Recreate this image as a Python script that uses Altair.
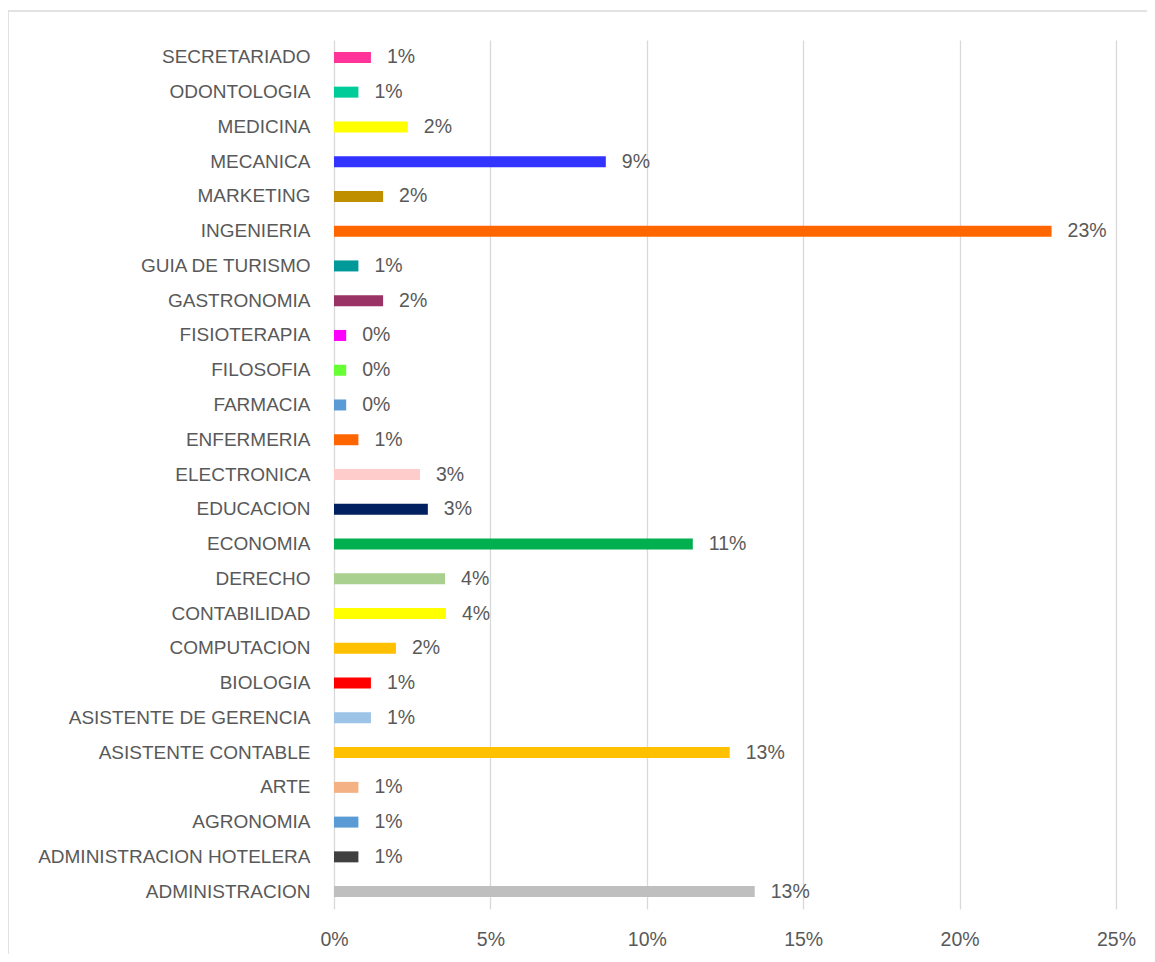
import altair as alt
import pandas as pd

categories = [
    "SECRETARIADO", "ODONTOLOGIA", "MEDICINA", "MECANICA", "MARKETING",
    "INGENIERIA", "GUIA DE TURISMO", "GASTRONOMIA", "FISIOTERAPIA", "FILOSOFIA",
    "FARMACIA", "ENFERMERIA", "ELECTRONICA", "EDUCACION", "ECONOMIA",
    "DERECHO", "CONTABILIDAD", "COMPUTACION", "BIOLOGIA", "ASISTENTE DE GERENCIA",
    "ASISTENTE CONTABLE", "ARTE", "AGRONOMIA", "ADMINISTRACION HOTELERA", "ADMINISTRACION",
]
values = [
    0.0118, 0.0078, 0.0236, 0.0869, 0.0157,
    0.2294, 0.0078, 0.0157, 0.0039, 0.0039,
    0.0039, 0.0078, 0.0275, 0.0300, 0.1147,
    0.0355, 0.0358, 0.0198, 0.0118, 0.0118,
    0.1265, 0.0078, 0.0078, 0.0078, 0.1345,
]
colors = [
    "#FF3399", "#00CC99", "#FFFF00", "#3333FF", "#BF8F00",
    "#FF6600", "#009999", "#993366", "#FF00FF", "#66FF33",
    "#5B9BD5", "#FF6600", "#FFCCCC", "#002060", "#00B050",
    "#A9D08E", "#FFFF00", "#FFC000", "#FF0000", "#9DC3E6",
    "#FFC000", "#F4B183", "#5B9BD5", "#404040", "#BFBFBF",
]
x_ticks = [0, 0.05, 0.10, 0.15, 0.20, 0.25]

df = pd.DataFrame({"cat": categories, "value": values, "color": colors})

FONT = "Liberation Sans"
TXT = "#595959"

y_enc = alt.Y("cat:N", sort=categories, title=None,
              axis=alt.Axis(labelPadding=24, labelFontSize=19, labelColor=TXT,
                            labelFont=FONT, ticks=False, domain=False, grid=False,
                            labelLimit=400))
x_enc = alt.X("value:Q", title=None,
              scale=alt.Scale(domain=[0, 0.25], nice=False),
              axis=alt.Axis(values=x_ticks, format=".0%", grid=True,
                            gridColor="#D9D9D9", gridWidth=1.3, domain=False,
                            ticks=False, labelPadding=21, labelFontSize=19.5,
                            labelColor=TXT, labelFont=FONT, labelFlush=False))

bars = alt.Chart(df).mark_bar(size=11).encode(
    x=x_enc, y=y_enc, color=alt.Color("color:N", scale=None)
)
labels = alt.Chart(df).mark_text(align="left", baseline="middle", dx=16,
                                 fontSize=19.5, font=FONT, color=TXT).encode(
    x="value:Q", y=alt.Y("cat:N", sort=categories),
    text=alt.Text("value:Q", format=".0%")
)
border = alt.Chart(pd.DataFrame({"a": [0]})).mark_rect(
    fill="transparent", stroke="#D9D9D9", strokeWidth=1.5
).encode(x=alt.value(-326), x2=alt.value(900), y=alt.value(-29), y2=alt.value(1000))

chart = alt.layer(border, bars, labels).properties(
    width=782, height=869,
    background="white",
    autosize=alt.AutoSizeParams(type="none"),
    padding={"left": 326, "top": 32, "right": 31, "bottom": 45},
).configure_view(stroke="transparent", strokeWidth=0)

chart.save("out.html", embed_options={"renderer": "svg", "actions": False})
